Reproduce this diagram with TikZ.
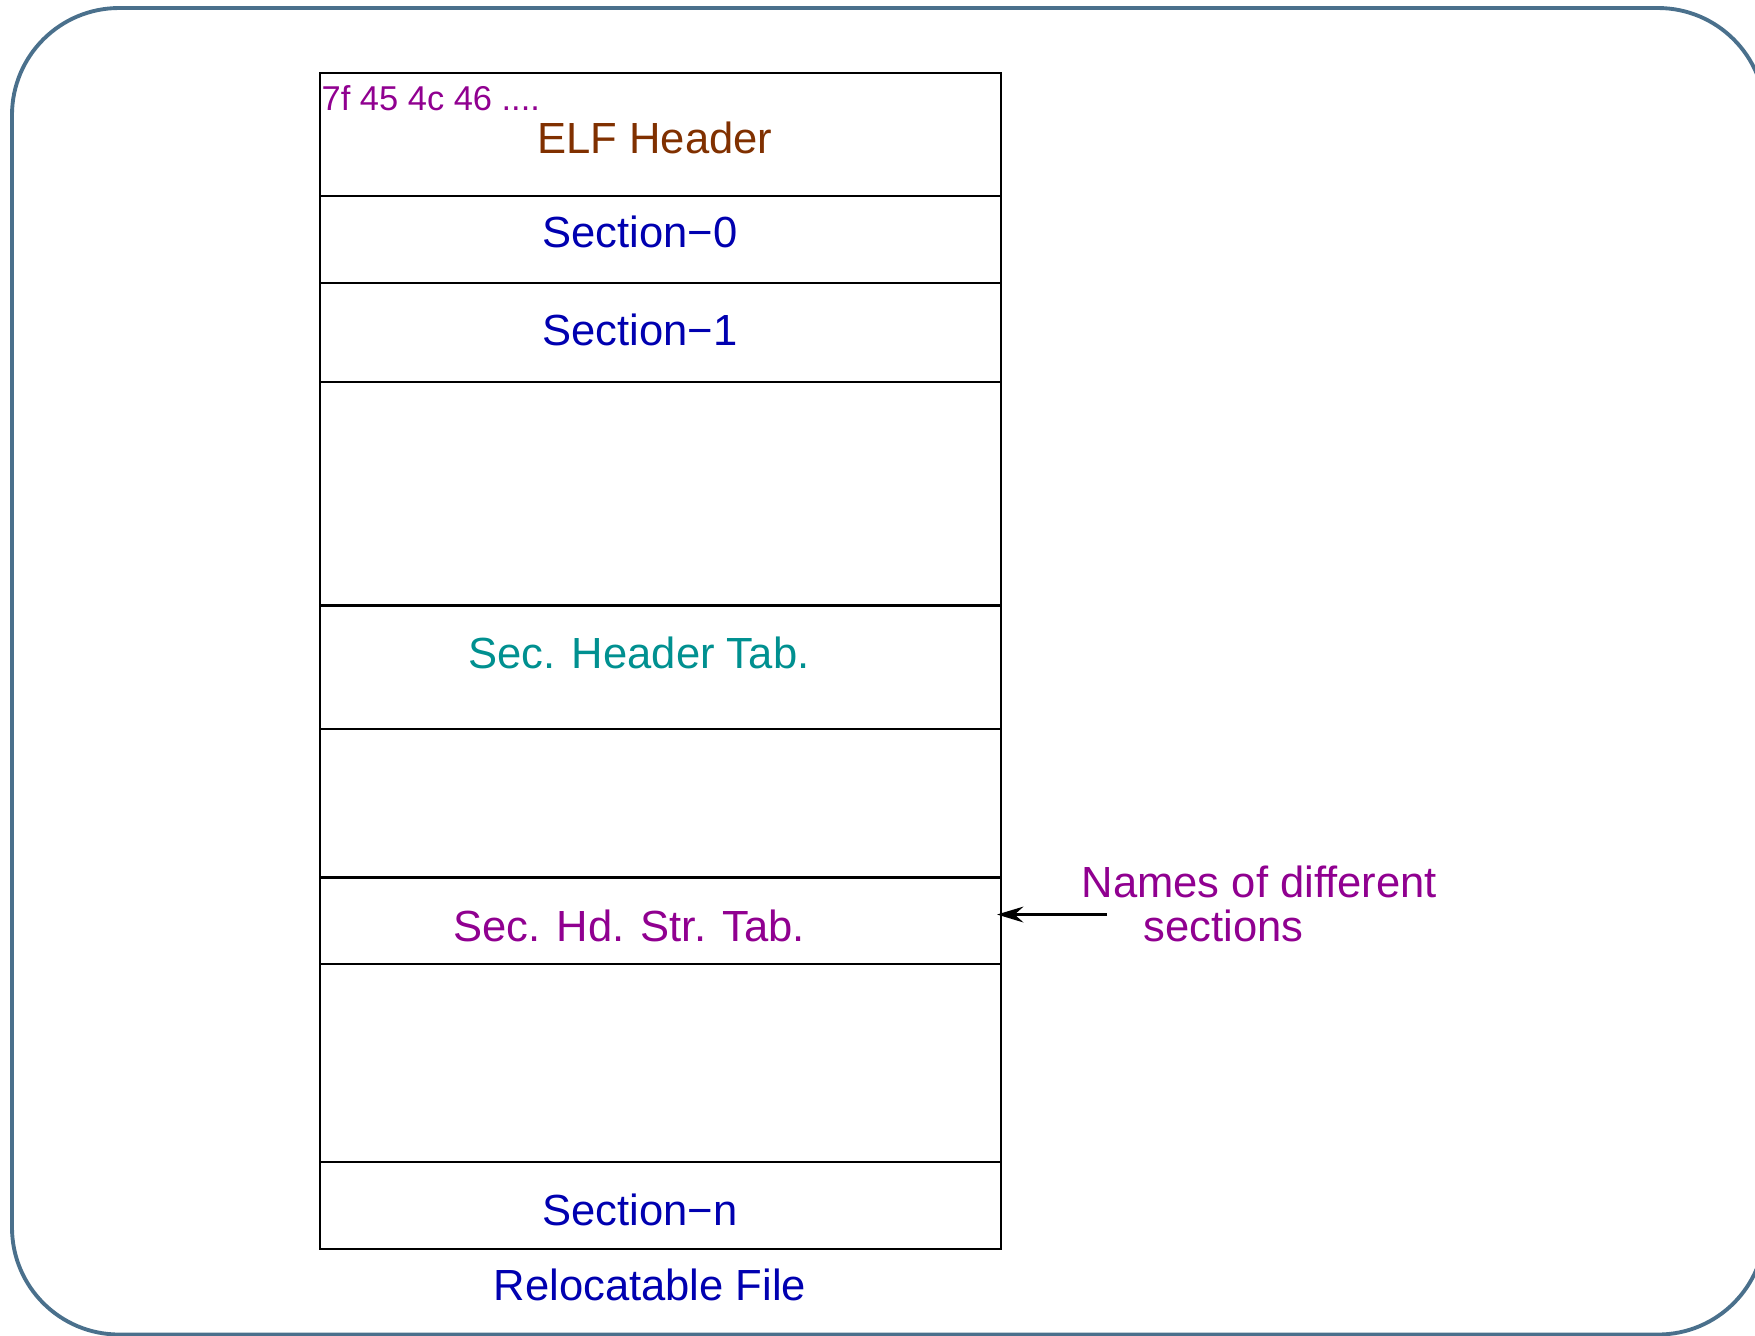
\documentclass[tikz,border=0pt]{standalone}
\usepackage{fontspec}
\setmainfont{Liberation Sans}
\usetikzlibrary{arrows.meta}
\tikzset{>={Stealth[length=7.5pt,width=4.5pt,inset=2.5pt]}}
\definecolor{elfbrown}{RGB}{128,48,0}
\definecolor{secblue}{RGB}{0,0,176}
\definecolor{tabteal}{RGB}{0,144,144}
\definecolor{strpurple}{RGB}{144,0,144}
\definecolor{slideframe}{RGB}{74,112,140}

\begin{document}
\begin{tikzpicture}[->,align=center]
\tikzstyle{part} = [rectangle,draw,line width=0.6pt,minimum width=6.81cm,inner sep=0pt]
\tikzstyle{txt} = [font=\fontsize{12.4}{14}\selectfont]
\useasboundingbox (0,0) rectangle (17.55,-13.35);
\draw[-,slideframe,line width=1.1pt,rounded corners=1.07cm] (0.12,-0.08) rectangle (17.65,-13.345);
% the parts of the file, top to bottom
\node[part,minimum height=1.231cm] (ehdr) at (6.605,-1.344) {};
\node[part,minimum height=0.873cm] (sec0) at (6.605,-2.396) {};
\node[part,minimum height=0.985cm] (sec1) at (6.605,-3.325) {};
\node[part,minimum height=2.238cm] (gap1) at (6.605,-4.936) {};
\node[part,minimum height=1.232cm] (shtab) at (6.605,-6.671) {};
\node[part,minimum height=1.488cm] (gap2) at (6.605,-8.031) {};
\node[part,minimum height=0.862cm] (strtab) at (6.605,-9.206) {};
\node[part,minimum height=1.981cm] (gap3) at (6.605,-10.628) {};
\node[part,minimum height=0.873cm] (secn) at (6.605,-12.055) {};
% labels
\node[font=\fontsize{9.8}{11}\selectfont,text=strpurple,anchor=west,inner sep=0pt] (magic) at (3.21,-0.985) {7f 45 4c 46 ....};
\node[txt,text=elfbrown] (ehdrtxt) at (6.548,-1.377) {ELF Header};
\node[txt,text=secblue] (sec0txt) at (6.40,-2.317) {Section−0};
\node[txt,text=secblue] (sec1txt) at (6.40,-3.302) {Section−1};
\node[txt,text=tabteal] (shtabtxt) at (6.39,-6.525) {Sec. Header Tab.};
\node[txt,text=strpurple] (strtabtxt) at (6.29,-9.257) {Sec. Hd. Str. Tab.};
\node[txt,text=secblue] (secntxt) at (6.40,-12.10) {Section−n};
\node[txt,text=secblue] (ftype) at (6.50,-12.85) {Relocatable File};
\node[txt,text=strpurple,anchor=west,inner sep=0pt] (names) at (10.81,-8.82) {Names of different};
\node[txt,text=strpurple,anchor=west,inner sep=0pt] (sects) at (11.43,-9.257) {sections};
\coordinate (namestail) at (11.07,-9.145);
\draw[line width=0.6pt,shorten >=-0.05cm] (namestail) -- (strtab.east |- namestail);
\end{tikzpicture}
\end{document}
